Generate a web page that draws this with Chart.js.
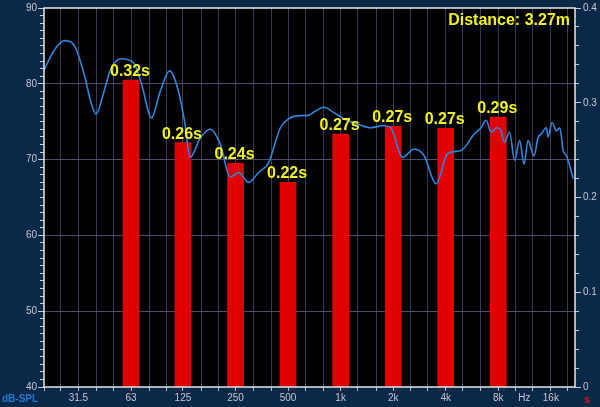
<!DOCTYPE html>
<html><head><meta charset="utf-8">
<script src="https://cdn.jsdelivr.net/npm/chart.js@4.4.1/dist/chart.umd.min.js"></script>
<style>html,body{margin:0;padding:0;background:#0a2848;}canvas{display:block;}</style>
</head><body>
<canvas id="c" width="600" height="407"></canvas>
<script>
// ---- data ----
const freqHz = [20,22.7,26.1,29.9,34.1,37.2,39.7,44.0,48.2,55.2,60.2,66.0,72.7,82.6,92.3,104.9,115.6,128,137.3,156.7,178.9,204,233,260,297,339,387,452,505,589,643,718,802,915,1044,1247,1488,1773,1938,2263,2639,3011,3517,4105,4895,5837,6379,6819,7283,7784,8207,8683,9281,9915,10600,11230,11840,12820,13510,14110,15080,15420,16260,17220,17990,18820,19670,21480];
const splDb = [81.8,84.3,85.7,85.0,81.1,77.5,76.0,78.9,81.9,83.3,83.2,82.6,79.8,75.5,78.9,81.7,79.7,74.9,70.3,72.8,74.0,72.1,67.7,68.3,67.0,68.3,69.6,74.2,75.4,75.8,75.8,76.4,76.9,76.2,75.4,74.7,74.2,74.5,74.2,70.3,71.4,70.5,66.8,70.8,71.2,73.4,74.2,75.2,73.6,74.2,74.0,72.3,73.6,69.9,72.5,69.4,72.5,70.5,72.9,73.4,74.2,73.0,74.9,73.8,74.2,71.2,70.5,67.5];
const bandHz = [63,125,250,500,1000,2000,4000,8000];
const rtSeconds = [0.324,0.258,0.236,0.216,0.267,0.275,0.273,0.285];
const rtLabels = ['0.32s','0.26s','0.24s','0.22s','0.27s','0.27s','0.27s','0.29s'];
const gridHz = [20,25,31.5,40,50,63,80,100,125,160,200,250,315,400,500,630,800,1000,1250,1600,2000,2500,3150,4000,5000,6300,8000,10000,12500,16000,20000];
const xLabelHz = [31.5,63,125,250,500,1000,2000,4000,8000,11300,16000];
const xLabelText = ['31.5','63','125','250','500','1k','2k','4k','8k','Hz','16k'];
const dbTicks = [40,50,60,70,80,90];
const sTicks = [0,0.1,0.2,0.3,0.4];
const distanceText = 'Distance: 3.27m';
const leftUnit = 'dB-SPL';
const rightUnit = 's';

// ---- styling ----
const FONT = '"Liberation Sans", Arial, Helvetica, sans-serif';
const BG = '#0a2848';
const LABEL = '#c4c8d0';
const HZ_GAP = 11300;

function range(a, b, step) { const r = []; for (let i = 0; a + i * step <= b + 1e-9; i++) r.push(+(a + i * step).toFixed(4)); return r; }

const decor = {
  id: 'decor',
  beforeDraw(chart) {
    const { ctx, chartArea: a } = chart;
    ctx.save();
    ctx.fillStyle = BG;
    ctx.fillRect(0, 0, chart.width, chart.height);
    ctx.fillStyle = '#000';
    ctx.fillRect(a.left, a.top, a.right - a.left, a.bottom - a.top);
    ctx.restore();
  },
  afterDatasetsDraw(chart) {
    const { ctx, chartArea: a } = chart;
    ctx.save();
    const meta = chart.getDatasetMeta(1);
    ctx.font = 'bold 16px ' + FONT;
    ctx.fillStyle = '#f2f21e';
    ctx.textAlign = 'center';
    ctx.textBaseline = 'alphabetic';
    meta.data.forEach((bar, i) => ctx.fillText(rtLabels[i], bar.x - 1, bar.y - 4));
    ctx.textAlign = 'right';
    ctx.fillText(distanceText, a.right - 5, a.top + 17);
    ctx.restore();
  },
  afterDraw(chart) {
    const { ctx, chartArea: a } = chart;
    ctx.save();
    ctx.strokeStyle = '#e8e8e8';
    ctx.lineWidth = 1.5;
    ctx.strokeRect(a.left, a.top, a.right - a.left, a.bottom - a.top);
    ctx.font = 'bold 10px ' + FONT;
    ctx.textBaseline = 'alphabetic';
    ctx.textAlign = 'left';
    ctx.fillStyle = '#1f7ad6';
    ctx.fillText(leftUnit, 2, 402);
    ctx.fillStyle = '#e01818';
    ctx.textAlign = 'center';
    ctx.fillText(rightUnit, 587, 403);
    ctx.restore();
  }
};

new Chart(document.getElementById('c'), {
  type: 'bar',
  data: {
    datasets: [
      {
        type: 'line',
        data: freqHz.map((f, i) => ({ x: f, y: splDb[i] })),
        xAxisID: 'x', yAxisID: 'y',
        borderColor: '#2d86dc', borderWidth: 1.6,
        pointRadius: 0, cubicInterpolationMode: 'monotone',
        fill: false, order: 0
      },
      {
        type: 'bar',
        data: bandHz.map((f, i) => ({ x: f, y: rtSeconds[i] })),
        xAxisID: 'x', yAxisID: 'yR',
        backgroundColor: '#e10000', borderWidth: 0,
        barThickness: 16, order: 1
      }
    ]
  },
  options: {
    responsive: false,
    animation: false,
    devicePixelRatio: 1,
    layout: { padding: { top: 7, left: 0, right: 0, bottom: 0 } },
    plugins: { legend: { display: false }, tooltip: { enabled: false } },
    scales: {
      x: {
        type: 'logarithmic', position: 'bottom', min: 20, max: 22000, offset: false,
        afterBuildTicks: s => { s.ticks = gridHz.concat([HZ_GAP]).sort((p, q) => p - q).map(v => ({ value: v })); },
        afterFit: s => { s.height = 20; },
        ticks: {
          autoSkip: false, maxRotation: 0, minRotation: 0, color: LABEL, padding: 1,
          font: { family: FONT, size: 10 },
          callback: v => { const i = xLabelHz.indexOf(v); return i < 0 ? '' : xLabelText[i]; }
        },
        grid: {
          offset: false, tickLength: 4, lineWidth: 1,
          color: c => (c.tick && (c.tick.value === HZ_GAP || c.tick.value === 20)) ? 'rgba(0,0,0,0)' : '#3a3a56',
          tickColor: c => (c.tick && c.tick.value === HZ_GAP) ? 'rgba(0,0,0,0)' : '#b8bcc4'
        },
        border: { display: false }
      },
      y: {
        type: 'linear', position: 'left', min: 40, max: 90, weight: 2,
        afterBuildTicks: s => { s.ticks = dbTicks.map(v => ({ value: v })); },
        afterFit: s => { s.width = 44; },
        ticks: { color: LABEL, padding: 1, font: { family: FONT, size: 10 } },
        grid: {
          tickLength: 6, lineWidth: 1,
          color: c => (c.tick && (c.tick.value === 40 || c.tick.value === 90)) ? 'rgba(0,0,0,0)' : '#4c4c6c',
          tickColor: '#c4c8d0'
        },
        border: { display: false }
      },
      yMinor: {
        type: 'linear', position: 'left', min: 40, max: 90, weight: 1,
        afterBuildTicks: s => { s.ticks = range(40, 90, 1).map(v => ({ value: v })); },
        afterFit: s => { s.width = 0; },
        ticks: { display: false },
        grid: { drawOnChartArea: false, tickLength: 4, tickColor: '#c4c8d0' },
        border: { display: false }
      },
      yR: {
        type: 'linear', position: 'right', min: 0, max: 0.4, weight: 2,
        afterBuildTicks: s => { s.ticks = sTicks.map(v => ({ value: v })); },
        afterFit: s => { s.width = 25; },
        ticks: { color: LABEL, padding: 2, font: { family: FONT, size: 10 }, callback: v => String(v) },
        grid: { drawOnChartArea: false, tickLength: 6, tickColor: '#c4c8d0' },
        border: { display: false }
      },
      yRMinor: {
        type: 'linear', position: 'right', min: 0, max: 0.4, weight: 1,
        afterBuildTicks: s => { s.ticks = range(0, 0.4, 0.02).map(v => ({ value: v })); },
        afterFit: s => { s.width = 0; },
        ticks: { display: false },
        grid: { drawOnChartArea: false, tickLength: 4, tickColor: '#c4c8d0' },
        border: { display: false }
      }
    }
  },
  plugins: [decor]
});
</script>
</body></html>
